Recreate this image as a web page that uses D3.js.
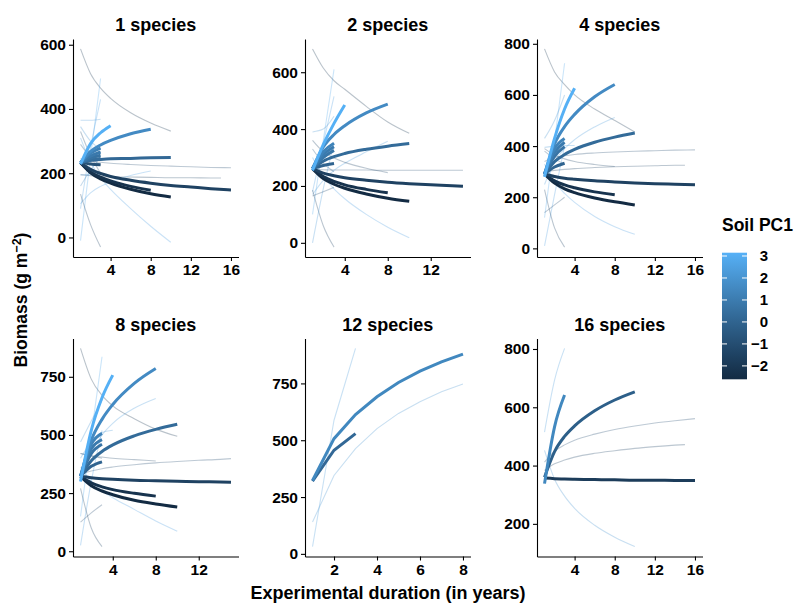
<!DOCTYPE html>
<html><head><meta charset="utf-8">
<script src="https://cdn.jsdelivr.net/npm/d3@7"></script>
<style>
body{margin:0;background:#fff}
text{font-family:"Liberation Sans",Arial,sans-serif;font-weight:bold;fill:#000}
</style>
</head><body>
<svg id="chart" width="800" height="611"></svg>
<script>
// ---------- DATA ----------
const panelTitles = ["1 species","2 species","4 species","8 species","12 species","16 species"];
const yTicks = [[0,200,400,600],[0,200,400,600],[0,200,400,600,800],[0,250,500,750],[0,250,500,750],[200,400,600,800]];
const xTicks = [[4,8,12,16],[4,8,12],[4,8,12,16],[4,8,12],[2,4,6,8],[4,8,12,16]];
const legendTicks = [-2,-1,0,1,2,3];
const pcRange = [-2.61, 3.15];

const yrs3 = [1,2,3], yrs4 = [1,2,3,4], yrs8 = [1,2,3,4,6,8], yrs10 = [1,2,3,4,6,8,10];
const yrs15 = [1,2,3,4,6,8,10,12,14,15], yrs16 = [1,2,3,4,6,8,10,12,14,16];
const yrsAll8 = [1,2,3,4,5,6,7,8];

// each entry: [soil PC1, years, biomass]
const fits1 = [
  [-2.6, yrs10, [233,201,182,169,150,136,126]],
  [-2.2, yrs8, [233,204,188,176,159,147]],
  [-1.5, yrs16, [233,212,199,190,178,169,162,157,152,148]],
  [-0.8, yrs3, [233,229,226]],
  [0.2, yrs10, [233,240,243,245,246,248,249]],
  [0.4, yrs3, [233,241,246]],
  [0.6, yrs3, [233,247,256]],
  [0.9, yrs3, [233,253,266]],
  [1.2, yrs3, [233,262,278]],
  [1.6, yrs8, [233,268,288,302,323,337]],
  [3.1, yrs4, [228,292,326,348]]
];
const bands1 = [
  [-2.0, yrs10, [587,510,465,433,388,356,331]],
  [2.5, yrs10, [310,235,185,150,90,35,-15]],
  [-1.0, yrs16, [245,238,234,231,227,224,222,220,218,217]],
  [-1.5, yrs15, [195,192,190,189,188,187,186,186,185,185]],
  [2.5, yrs8, [105,139,159,173,193,207]],
  [2.8, yrs3, [-10,250,495]],
  [2.5, yrs3, [90,280,430]],
  [-1.5, yrs3, [135,40,-30]],
  [-1.0, yrs3, [330,255,200]],
  [2.2, yrs3, [365,365,368]],
  [2.0, yrs3, [345,300,275]],
  [-0.5, yrs3, [290,250,225]],
  [2.0, yrs3, [195,195,195]],
  [1.5, yrs3, [160,210,250]]
];

const fits2 = [
  [-2.6, yrs10, [261,226,206,192,172,157,146]],
  [-2.2, yrs8, [261,233,216,204,188,176]],
  [-1.5, yrs15, [261,245,236,229,220,213,208,204,201,199]],
  [0.0, yrs3, [261,272,279]],
  [0.3, yrs10, [261,287,303,314,329,340,349]],
  [0.8, yrs3, [261,300,325]],
  [1.0, yrs3, [261,310,338]],
  [1.3, yrs3, [261,320,350]],
  [1.6, yrs8, [261,337,381,412,457,488]],
  [3.1, yrs4, [255,345,420,485]]
];
const bands2 = [
  [-2.0, yrs10, [682,615,570,540,480,425,385]],
  [2.5, yrs10, [300,235,190,155,100,55,18]],
  [-1.0, yrs15, [258,257,256,256,256,255,255,255,255,255]],
  [2.3, yrs8, [170,220,255,280,320,357]],
  [-1.3, yrs8, [360,320,298,283,262,247]],
  [2.8, yrs3, [100,360,610]],
  [2.5, yrs3, [180,350,515]],
  [-1.5, yrs3, [185,60,-15]],
  [-0.5, yrs3, [330,280,250]],
  [2.0, yrs3, [390,400,445]],
  [2.2, yrs3, [0,190,350]],
  [-1.0, yrs3, [165,180,195]]
];

const fits3 = [
  [-2.6, yrs10, [291,255,233,218,197,182,170]],
  [-2.2, yrs8, [291,264,248,237,221,210]],
  [-1.5, yrs16, [291,281,274,270,264,260,256,253,251,249]],
  [0.0, yrs3, [291,318,333]],
  [0.3, yrs10, [291,339,367,387,415,435,451]],
  [0.7, yrs3, [291,360,398]],
  [1.0, yrs3, [291,375,415]],
  [1.3, yrs3, [291,390,430]],
  [1.6, yrs8, [291,408,476,524,593,641]],
  [3.1, yrs4, [280,430,545,626]]
];
const bands3 = [
  [-2.0, yrs10, [780,690,640,600,545,500,455]],
  [2.5, yrs10, [330,260,215,180,125,85,55]],
  [-1.0, yrs16, [340,355,362,367,373,377,380,382,384,385]],
  [-1.3, yrs15, [300,305,309,312,316,319,321,323,325,325]],
  [2.3, yrs8, [250,340,390,425,475,512]],
  [-1.3, yrs8, [390,365,350,340,328,320]],
  [2.8, yrs3, [120,420,724]],
  [2.5, yrs3, [10,210,400]],
  [-1.5, yrs3, [230,80,5]],
  [-0.5, yrs3, [380,350,330]],
  [2.0, yrs3, [430,500,600]],
  [-1.0, yrs3, [140,170,200]],
  [2.2, yrs4, [395,400,402,402]]
];

const fits4 = [
  [-2.6, yrs10, [322,282,259,243,219,203,190]],
  [-2.2, yrs8, [322,294,277,265,249,237]],
  [-1.5, yrs15, [322,316,312,309,305,303,301,299,298,297]],
  [0.0, yrs3, [322,365,384]],
  [0.3, yrs10, [322,389,429,457,496,524,546]],
  [0.7, yrs3, [322,420,460]],
  [1.0, yrs3, [322,440,480]],
  [1.3, yrs3, [322,460,507]],
  [1.6, yrs8, [322,477,567,631,722,786]],
  [3.1, yrs4, [300,520,660,757]]
];
const bands4 = [
  [-2.0, yrs10, [872,740,670,625,570,525,494]],
  [2.5, yrs10, [360,300,260,230,180,130,86]],
  [-1.0, yrs15, [330,345,355,362,372,380,386,391,395,398]],
  [2.3, yrs8, [300,420,500,550,615,657]],
  [-1.3, yrs8, [420,410,405,400,394,388]],
  [2.8, yrs3, [150,500,836]],
  [2.5, yrs3, [25,300,520]],
  [-1.5, yrs3, [270,100,20]],
  [-1.0, yrs3, [125,165,200]],
  [2.0, yrs3, [470,560,650]],
  [2.2, yrs4, [400,470,510,520]],
  [-0.5, yrs3, [420,410,400]]
];

const fits5 = [
  [0.2, yrs3, [320,456,529]],
  [1.5, yrsAll8, [323,507,613,691,754,804,845,879]]
];
const bands5 = [
  [2.3, yrs3, [32,588,904]],
  [2.0, yrsAll8, [140,345,463,551,618,669,713,747]]
];

const fits6 = [
  [-1.8, yrs16, [357,355,354,353,352,351,350,350,349,349]],
  [-0.2, yrs10, [360,448,500,536,588,625,653]],
  [1.5, yrs3, [338,533,642]]
];
const bands6 = [
  [2.3, yrs3, [515,693,802]],
  [2.0, yrs10, [452,353,295,253,195,154,122]],
  [-1.0, yrs16, [412,449,471,487,508,524,536,546,554,561]],
  [-1.3, yrs15, [383,406,419,429,442,451,459,465,470,472]]
];

const panelFits = [fits1,fits2,fits3,fits4,fits5,fits6];
const panelBands = [bands1,bands2,bands3,bands4,bands5,bands6];

// ---------- LAYOUT ----------
const colX = [73, 305, 537];
const rowY = [[39, 257], [338.5, 556.5]];
const panelW = 165.5;

const svg = d3.select("#chart");
const color = d3.scaleLinear().domain(pcRange).range(["#132B43","#56B1F7"]).interpolate(d3.interpolateLab);

function expand(ext, f) { const d = (ext[1]-ext[0])*f; return [ext[0]-d, ext[1]+d]; }

panelTitles.forEach((title, i) => {
  const col = i % 3, row = Math.floor(i / 3);
  const x0 = colX[col], y0 = rowY[row][0], y1 = rowY[row][1];
  const h = y1 - y0;
  const all = panelFits[i].concat(panelBands[i]);
  const xExt = d3.extent(all.flatMap(s => s[1]));
  const yExt = d3.extent(all.flatMap(s => s[2]));
  const xs = d3.scaleLinear().domain(expand(xExt, 0.05)).range([0, panelW]);
  const ys = d3.scaleLinear().domain(expand(yExt, 0.05)).range([h, 0]);

  const g = svg.append("g").attr("transform", `translate(${x0},${y0})`);
  // yearly values are joined by straight segments; sparse series are smoothed
  const line = d3.line().x(d => xs(d[0])).y(d => ys(d[1]))
    .curve(i === 4 ? d3.curveLinear : d3.curveMonotoneX);
  const pts = s => s[1].map((x, k) => [x, s[2][k]]);

  g.selectAll("path.band").data(panelBands[i]).join("path")
    .attr("class","band")
    .attr("d", s => line(pts(s)))
    .attr("fill","none")
    .attr("stroke", s => color(s[0]))
    .attr("stroke-opacity", 0.3)
    .attr("stroke-width", 1.1);

  const fits = panelFits[i].slice().sort((a,b) => a[0]-b[0]);
  g.selectAll("path.fit").data(fits).join("path")
    .attr("class","fit")
    .attr("d", s => line(pts(s)))
    .attr("fill","none")
    .attr("stroke", s => color(s[0]))
    .attr("stroke-width", 3);

  const ax = g.append("g").call(d3.axisLeft(ys).tickValues(yTicks[i]).tickSize(4).tickSizeOuter(0).tickPadding(3).tickFormat(d3.format("d")));
  const bx = g.append("g").attr("transform", `translate(0,${h})`)
    .call(d3.axisBottom(xs).tickValues(xTicks[i]).tickSize(4).tickSizeOuter(0).tickPadding(3).tickFormat(d3.format("d")));
  [ax, bx].forEach(a => {
    a.select(".domain").attr("stroke","#000").attr("stroke-width",1.1);
    a.selectAll(".tick line").attr("stroke","#000").attr("stroke-width",1.1);
    a.selectAll(".tick text").attr("font-size", 15.5).attr("font-family", "Liberation Sans, Arial, sans-serif").attr("font-weight","bold").attr("fill","#000");
  });

  svg.append("text").attr("x", x0 + panelW/2).attr("y", y0 - 8)
    .attr("text-anchor","middle").attr("font-size", 18).text(title);
});

// axis titles
const yt = svg.append("text").attr("transform","translate(27,300) rotate(-90)")
  .attr("text-anchor","middle").attr("font-size", 17.5);
yt.append("tspan").text("Biomass (g m");
yt.append("tspan").attr("dy", -6).attr("font-size", 12.5).text("\u22122");
yt.append("tspan").attr("dy", 6).text(")");

svg.append("text").attr("x", 388).attr("y", 599).attr("text-anchor","middle")
  .attr("font-size", 18).text("Experimental duration (in years)");

// legend
const lgX = 722, lgW = 25, lgTop = 252.7, lgBot = 379.3;
svg.append("text").attr("x", lgX).attr("y", 231).attr("font-size", 17.5).text("Soil PC1");
const defs = svg.append("defs");
const grad = defs.append("linearGradient").attr("id","pcgrad").attr("x1",0).attr("y1",1).attr("x2",0).attr("y2",0);
d3.range(0, 1.0001, 0.1).forEach(t => {
  grad.append("stop").attr("offset", t).attr("stop-color", color(pcRange[0] + t*(pcRange[1]-pcRange[0])));
});
svg.append("rect").attr("x", lgX).attr("y", lgTop).attr("width", lgW).attr("height", lgBot - lgTop).attr("fill","url(#pcgrad)");
const ls = d3.scaleLinear().domain(pcRange).range([lgBot, lgTop]);
legendTicks.forEach(v => {
  const y = ls(v);
  svg.append("line").attr("x1", lgX).attr("x2", lgX + 5).attr("y1", y).attr("y2", y).attr("stroke","#fff").attr("stroke-width",1);
  svg.append("line").attr("x1", lgX + lgW - 5).attr("x2", lgX + lgW).attr("y1", y).attr("y2", y).attr("stroke","#fff").attr("stroke-width",1);
  svg.append("text").attr("x", 768).attr("y", y).attr("dy","0.36em").attr("text-anchor","end")
    .attr("font-size", 15).text(v < 0 ? "\u2212" + Math.abs(v) : String(v));
});
</script>
</body></html>
